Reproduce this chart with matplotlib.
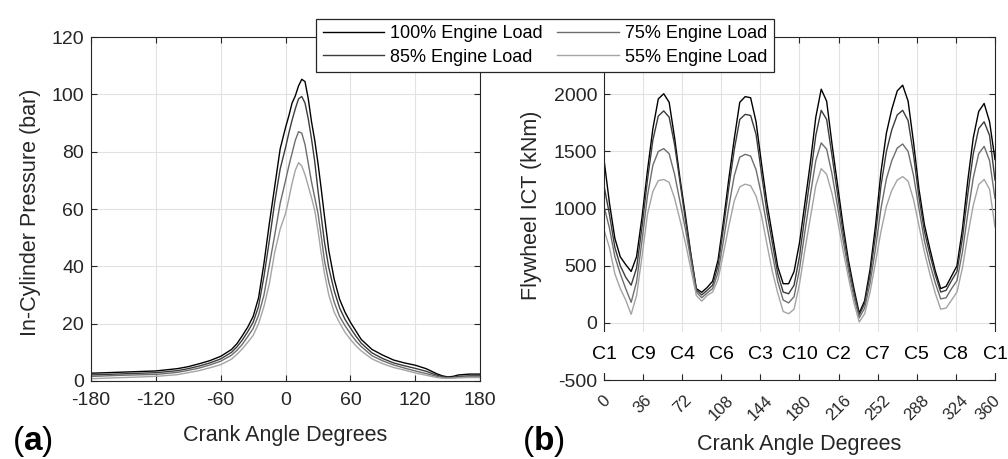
import numpy as np
import matplotlib
matplotlib.use("Agg")
import matplotlib.pyplot as plt
from matplotlib.patches import Rectangle
from matplotlib.transforms import blended_transform_factory, ScaledTranslation

plt.rcParams["font.family"] = ["Liberation Sans", "DejaVu Sans"]
plt.rcParams["mathtext.fontset"] = "custom"
plt.rcParams["mathtext.rm"] = "Liberation Sans"
plt.rcParams["mathtext.bf"] = "Liberation Sans:bold"
plt.rcParams["axes.unicode_minus"] = False

# --- data ---
LOADS = ["100% Engine Load", "85% Engine Load", "75% Engine Load", "55% Engine Load"]
COLORS = ["#000000", "#3c3c3c", "#6e6e6e", "#a4a4a4"]

# (a) in-cylinder pressure, bar
CA_PRESSURE = [-180, -150, -120, -100, -90, -80, -70, -60, -50, -45, -40, -35, -30,
               -25, -20, -15, -10, -5, 0, 3, 6, 9, 12, 15, 18, 21, 24, 27, 30, 33,
               36, 40, 45, 50, 55, 60, 65, 70, 80, 90, 100, 110, 120, 130, 140,
               145, 150, 155, 160, 170, 180]
P_100 = [2.7, 3.1, 3.5, 4.3, 5.0, 6.0, 7.1, 8.6, 11.0, 13.0, 15.8, 18.8, 22.5,
         29.0, 41.0, 55.0, 68.0, 81.0, 88.5, 92.5, 97.0, 99.5, 103.0, 105.3, 104.5,
         98.5, 90.5, 84.0, 76.0, 67.0, 57.5, 45.5, 35.5, 28.5, 24.0, 20.5, 17.5,
         14.5, 11.0, 9.0, 7.3, 6.3, 5.5, 4.3, 2.5, 1.8, 1.4, 1.6, 2.1, 2.4, 2.4]
P_85 = [2.1, 2.5, 2.9, 3.6, 4.3, 5.2, 6.3, 7.7, 10.0, 11.9, 14.3, 17.2, 20.5,
        26.0, 36.5, 49.0, 62.5, 74.0, 81.5, 86.5, 91.0, 95.0, 98.5, 99.3, 97.0,
        91.5, 84.5, 76.5, 66.5, 57.5, 48.5, 39.5, 31.5, 25.5, 21.5, 18.5, 15.7,
        13.2, 9.8, 7.8, 6.3, 5.3, 4.4, 3.4, 2.0, 1.5, 1.2, 1.3, 1.6, 1.8, 1.8]
P_75 = [1.6, 2.0, 2.3, 3.0, 3.7, 4.5, 5.6, 6.9, 9.0, 10.7, 12.8, 15.5, 18.3,
        23.0, 30.0, 40.5, 51.0, 62.0, 70.0, 75.0, 79.5, 84.0, 87.0, 86.5, 82.5,
        76.0, 69.5, 64.0, 58.5, 50.5, 42.0, 34.5, 27.5, 22.5, 19.3, 16.5, 14.0,
        12.0, 8.8, 7.0, 5.6, 4.5, 3.5, 2.6, 1.6, 1.2, 1.0, 1.1, 1.3, 1.4, 1.4]
P_55 = [0.8, 1.2, 1.6, 2.2, 2.9, 3.6, 4.6, 5.7, 7.6, 9.3, 11.2, 13.5, 15.9,
        20.0, 26.0, 34.0, 45.0, 53.0, 58.5, 63.5, 69.0, 73.5, 76.2, 75.0, 72.0,
        68.0, 64.0, 59.5, 52.5, 44.5, 37.5, 30.0, 24.0, 20.3, 17.0, 14.5, 12.3,
        10.5, 7.7, 6.0, 4.7, 3.8, 2.8, 2.0, 1.2, 1.0, 0.9, 1.0, 1.1, 1.2, 1.2]

# (b) flywheel instantaneous crankshaft torque, kNm, every 5 degrees 0..360
CA_ICT = np.arange(0, 361, 5)
ICT_100 = [1430, 1050, 740, 578, 510, 450, 580, 925, 1330, 1700, 1960, 2005, 1930,
           1620, 1260, 940, 600, 300, 268, 310, 365, 550, 890, 1265, 1615, 1930,
           1980, 1970, 1760, 1395, 1050, 770, 490, 343, 343, 450, 700, 1050, 1400,
           1800, 2045, 1940, 1560, 1210, 860, 550, 305, 85, 195, 470, 850, 1320,
           1660, 1870, 2030, 2080, 1940, 1580, 1170, 860, 650, 455, 300, 320, 410,
           500, 820, 1250, 1620, 1850, 1920, 1760, 1430]
ICT_85 = [1200, 950, 660, 500, 400, 330, 480, 840, 1250, 1600, 1810, 1855, 1800,
          1560, 1230, 900, 590, 290, 245, 285, 330, 500, 830, 1190, 1520, 1780,
          1825, 1815, 1650, 1310, 970, 700, 430, 270, 255, 330, 580, 940, 1280,
          1640, 1860, 1780, 1460, 1130, 800, 510, 270, 70, 170, 420, 770, 1200,
          1500, 1690, 1820, 1860, 1770, 1470, 1100, 800, 600, 420, 270, 285, 370,
          450, 740, 1130, 1480, 1700, 1760, 1640, 1250]
ICT_75 = [1020, 830, 580, 430, 300, 180, 360, 720, 1110, 1380, 1500, 1525, 1480,
          1300, 1060, 820, 550, 270, 220, 262, 300, 440, 720, 1020, 1290, 1450,
          1475, 1460, 1340, 1120, 850, 600, 360, 200, 175, 230, 470, 800, 1120,
          1420, 1575, 1520, 1300, 1020, 730, 460, 230, 44, 130, 350, 650, 1000,
          1260, 1420, 1530, 1565, 1500, 1290, 1000, 720, 520, 350, 210, 220, 300,
          370, 620, 960, 1270, 1480, 1545, 1420, 1090]
ICT_55 = [815, 660, 430, 300, 200, 75, 240, 580, 950, 1150, 1245, 1255, 1230,
          1090, 900, 700, 470, 240, 190, 240, 270, 380, 610, 850, 1070, 1190,
          1214, 1200, 1110, 940, 690, 450, 260, 100, 80, 120, 340, 640, 920,
          1200, 1350, 1300, 1130, 900, 640, 400, 180, 8, 80, 270, 530, 800,
          1020, 1160, 1250, 1280, 1240, 1080, 850, 620, 430, 260, 120, 130, 200,
          270, 480, 770, 1030, 1210, 1255, 1170, 840]

FIRING_ORDER = ["C1", "C9", "C4", "C6", "C3", "C10", "C2", "C7", "C5", "C8", "C1"]
FIRING_CA = [0, 36, 72, 108, 144, 180, 216, 252, 288, 324, 360]

AX_COL = "#262626"
GRID_COL = "#e2e2e2"


def style_axes(ax):
    ax.grid(True, color=GRID_COL, linewidth=0.8)
    ax.set_axisbelow(True)
    for s in ax.spines.values():
        s.set_color(AX_COL)
        s.set_linewidth(0.8)
    ax.tick_params(direction="in", top=True, right=True, length=4, width=0.8,
                   color=AX_COL, labelcolor=AX_COL, labelsize=14)
    ax.tick_params(axis="y", pad=5)


fig = plt.figure(figsize=(10.08, 4.59), dpi=100)
ax1 = fig.add_axes([0.0903, 0.170, 0.386, 0.749])
ax2 = fig.add_axes([0.5992, 0.172, 0.3879, 0.747])

# (a)
pressures = [P_100, P_85, P_75, P_55]
handles = []
for vals, c, lab in zip(pressures, COLORS, LOADS):
    ln, = ax1.plot(CA_PRESSURE, vals, color=c, linewidth=1.0, label=lab)
    handles.append(ln)
ax1.set_xlim(-180, 180)
ax1.set_ylim(0, 120)
ax1.set_xticks(range(-180, 181, 60))
ax1.set_yticks(range(0, 121, 20))
style_axes(ax1)
ax1.tick_params(axis="x", pad=8)
ax1.set_xlabel("Crank Angle Degrees", fontsize=15.5, color=AX_COL)
ax1.set_ylabel("In-Cylinder Pressure (bar)", fontsize=15.5, color=AX_COL)
ax1.xaxis.set_label_coords(0.499, -0.128)
ax1.yaxis.set_label_coords(-0.128, 0.49)

# (b)
torques = [ICT_100, ICT_85, ICT_75, ICT_55]
for vals, c in zip(torques, COLORS):
    ax2.plot(CA_ICT, vals, color=c, linewidth=1.0)
ax2.set_xlim(0, 360)
ax2.set_ylim(-500, 2500)
ax2.set_xticks(range(0, 361, 36))
ax2.set_yticks(range(-500, 2501, 500))
style_axes(ax2)
ax2.set_xticklabels([str(v) for v in range(0, 361, 36)], rotation=45, ha="center",
                    fontsize=12)
ax2.tick_params(axis="x", pad=9)
# keep the last rotated label inside the figure edge
last = ax2.get_xticklabels()[-1]
last.set_transform(last.get_transform() + ScaledTranslation(-5 / 72, 0, fig.dpi_scale_trans))

# blank band between the torque area and the crank angle ruler
trans = blended_transform_factory(ax2.transAxes, ax2.transData)
ax2.add_patch(Rectangle((-0.01, -434), 1.02, 358, transform=trans,
                        facecolor="white", edgecolor="none", clip_on=False, zorder=3))
for lab, x in zip(FIRING_ORDER, FIRING_CA):
    ax2.text(x, -275, lab, ha="center", va="center", fontsize=14, color="black",
             zorder=4, clip_on=False)

ax2.set_xlabel("Crank Angle Degrees", fontsize=15.5, color=AX_COL)
ax2.set_ylabel("Flywheel ICT (kNm)", fontsize=15.5, color=AX_COL)
ax2.xaxis.set_label_coords(0.5, -0.158)
ax2.yaxis.set_label_coords(-0.158, 0.51)

# panel letters
fig.text(0.012, 0.039, r"($\mathbf{a}$)", fontsize=24, color="black", va="center")
fig.text(0.518, 0.039, r"($\mathbf{b}$)", fontsize=24, color="black", va="center")

leg = fig.legend(handles, LOADS, loc="center", bbox_to_anchor=(0.5407, 0.901),
                 ncol=2, fontsize=13, frameon=True, fancybox=False,
                 handlelength=3.4, handletextpad=0.35, columnspacing=0.8,
                 labelspacing=0.35, borderpad=0.35)
leg.get_frame().set_edgecolor(AX_COL)
leg.get_frame().set_linewidth(0.9)
leg.get_frame().set_alpha(1.0)

fig.savefig("out.png", dpi=100)
